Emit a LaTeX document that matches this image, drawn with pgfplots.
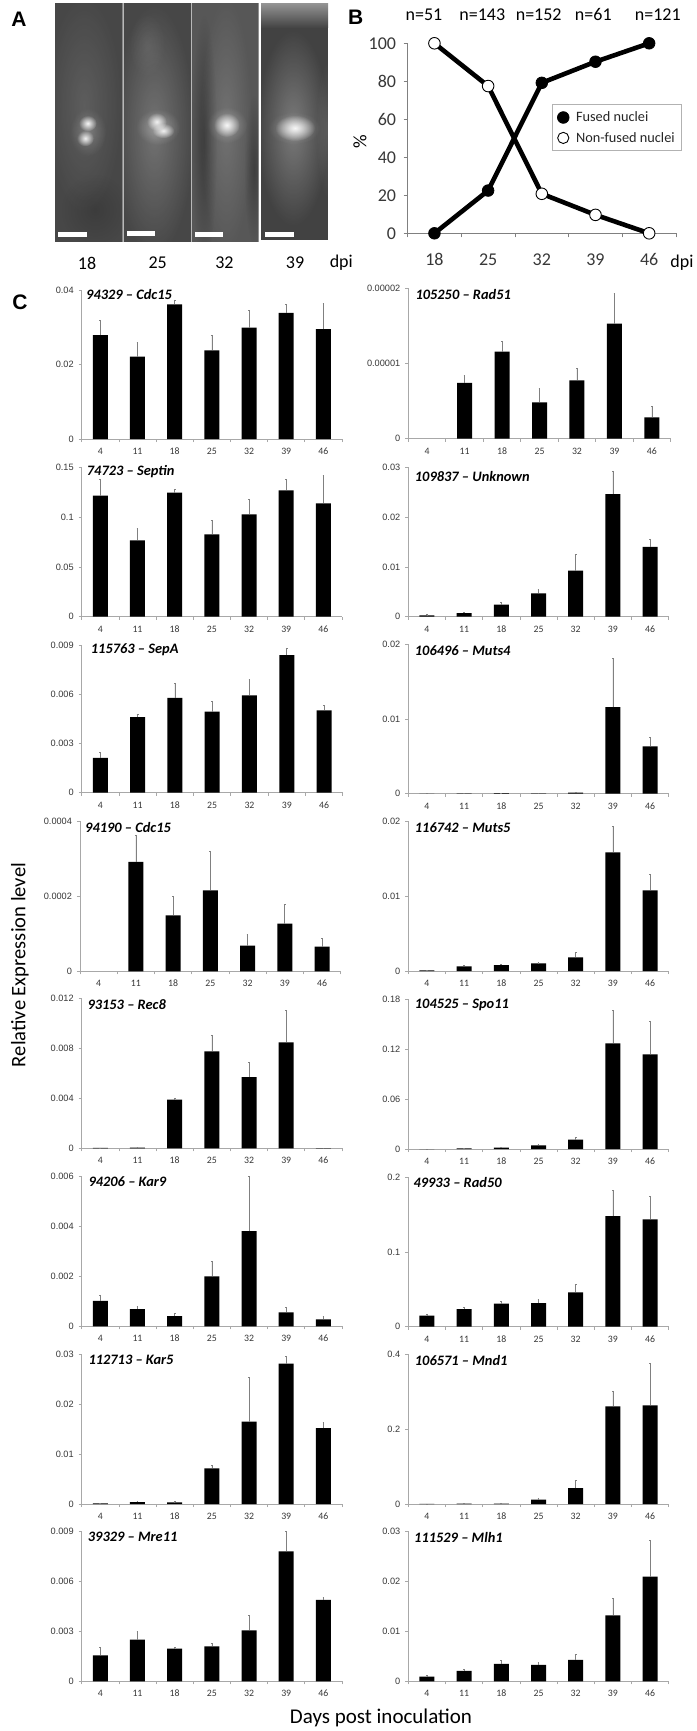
\documentclass[border=0pt]{standalone}
\usepackage{pgfplots}
\pgfplotsset{compat=1.18}
\usetikzlibrary{fadings}
\usepackage{fontspec}
\setmainfont{Liberation Sans}
\newfontfamily\carl{Carlito}
\definecolor{axg}{HTML}{A8A8A8}
\definecolor{txg}{HTML}{383838}
\definecolor{errg}{HTML}{808080}
\tikzfading[name=glowf,inner color=transparent!0,outer color=transparent!100]
% \glow{colour}{opacity}{x}{y}{rx}{ry}
\newcommand{\glow}[6]{\fill[#1,opacity=#2,path fading=glowf] (#3,-#4) ellipse (#5 and #6);}
% \panel{xl}{xr}{ytop}{ybottom}{ymax}{yticks}{yticklabels}{coords}
\newcommand{\panel}[8]{%
\pgfmathsetlengthmacro{\pw}{#2pt-#1pt}%
\pgfmathsetlengthmacro{\ph}{#4pt-#3pt}%
\begin{axis}[at={(#1pt,-#4pt)},anchor=south west,scale only axis,width=\pw,height=\ph,
 xmin=-0.5,xmax=6.5,ymin=0,ymax=#5,clip=false,
 axis x line=bottom,axis y line=left,
 axis line style={axg,-,line width=0.9pt},
 tick align=outside,major tick length=0pt,minor tick length=3pt,
 minor tick style={axg,line width=0.7pt},
 xtick={0,1,2,3,4,5,6},xticklabels={4,11,18,25,32,39,46},
 minor xtick={-0.5,0.5,1.5,2.5,3.5,4.5,5.5,6.5},
 ytick={#6},minor ytick={#6},yticklabels={#7},
 scaled y ticks=false,
 xticklabel style={font=\carl\fontsize{9.8}{10}\selectfont,text=txg,text height=6.5pt,text depth=0pt,yshift=-5.5pt},
 yticklabel style={font=\fontsize{9.2}{10}\selectfont,text=txg,xshift=-4.5pt},
]
\addplot[ybar,bar width=15pt,fill=black,draw=none,
 error bars/.cd,y dir=plus,y explicit,
 error bar style={errg,line width=0.7pt},error mark options={errg,mark size=0.9pt,line width=0.5pt,rotate=90}]
 coordinates {#8};
\end{axis}}
\newcommand{\ttl}[3]{\node[anchor=west,inner sep=0pt,font=\carl\bfseries\itshape\fontsize{14.4}{15}\selectfont] at (#1pt,-#2pt) {#3};}
\newcommand{\lab}[4][]{\node[inner sep=0pt,#1] at (#2pt,-#3pt) {#4};}
\begin{document}
\begin{tikzpicture}[x=1pt,y=1pt]
\path[use as bounding box,fill=white] (0,0) rectangle (696pt,-1731pt);
% ---- panel A: micrographs, painted with soft glows
\begin{scope}
\clip (54.7,-3.3) rectangle (122.7,-241.7);
\fill[black!72] (54.7,-3.3) rectangle (122.7,-241.7);
\glow{white}{0.12}{84}{105}{38}{110}
\glow{black}{0.15}{95}{210}{34}{36}
\glow{white}{0.22}{88}{132}{18}{24}
\glow{white}{0.95}{87.7}{123.3}{9}{8}
\glow{white}{0.90}{85.3}{138.3}{8.5}{8}
\end{scope}
\begin{scope}
\clip (123,-3.3) rectangle (191.3,-241.7);
\fill[black!72] (123,-3.3) rectangle (191.3,-241.7);
\glow{white}{0.24}{154}{130}{40}{126}
\glow{white}{0.08}{147}{45}{18}{32}
\glow{white}{0.32}{158}{127}{22}{18}
\glow{white}{0.88}{156.7}{121.7}{10}{9}
\glow{white}{0.88}{163.3}{130.7}{11}{7.5}
\end{scope}
\begin{scope}
\clip (191.6,-3.3) rectangle (258.7,-241.7);
\fill[black!66] (191.6,-3.3) rectangle (258.7,-241.7);
\glow{black}{0.32}{204}{140}{13}{125}
\glow{black}{0.28}{254}{170}{10}{75}
\glow{white}{0.16}{226}{125}{26}{128}
\glow{white}{0.30}{227}{125}{20}{18}
\glow{white}{0.92}{226.7}{125}{13}{12}
\end{scope}
\begin{scope}
\clip (261,-3.3) rectangle (328,-240);
\fill[black!74] (261,-3.3) rectangle (328,-240);
\shade[top color=black!42,bottom color=black!74] (261,-3.3) rectangle (328,-28);
\glow{white}{0.30}{293}{128}{36}{98}
\glow{white}{0.12}{328}{130}{12}{70}
\glow{white}{0.25}{294}{128}{26}{16}
\glow{white}{0.92}{295}{128}{20}{13}
\end{scope}
\draw[black!28,line width=0.6pt] (122.8,-3.3) -- (122.8,-241.7) (191.4,-3.3) -- (191.4,-241.7);
\fill[white] (57.7,-231.7) rectangle (86.7,-236.7);
\fill[white] (126.7,-231) rectangle (155.3,-236);
\fill[white] (195.3,-232) rectangle (223.3,-237);
\fill[white] (265.2,-232.3) rectangle (293.6,-237);
\foreach \x/\t in {87/18,157.7/25,224.4/32,295/39,341.3/dpi}{\lab[font=\carl\fontsize{18}{19}\selectfont]{\x}{263}{\t}}
\lab[font=\bfseries\fontsize{21}{22}\selectfont]{19}{19}{A}
\lab[font=\bfseries\fontsize{21}{22}\selectfont]{355.6}{17}{B}
\lab[font=\bfseries\fontsize{21}{22}\selectfont]{20}{302}{C}
% ---- panel B
\begin{axis}[at={(407.6pt,-233.3pt)},anchor=south west,scale only axis,width=268.4pt,height=190pt,
 xmin=-0.5,xmax=4.5,ymin=0,ymax=100,clip=false,
 axis x line=bottom,axis y line=left,
 axis line style={black!50,-,line width=0.9pt},
 tick align=outside,major tick length=0pt,minor tick length=4pt,
 minor tick style={black!50,line width=0.7pt},
 xtick={0,1,2,3,4},xticklabels={18,25,32,39,46},
 minor xtick={-0.5,0.5,1.5,2.5,3.5,4.5},
 ytick={0,20,40,60,80,100},minor ytick={0,20,40,60,80,100},yticklabels={0,20,40,60,80,100},
 xticklabel style={font=\carl\fontsize{18}{19}\selectfont,text=txg,text height=11.5pt,text depth=0pt,yshift=-17pt},
 yticklabel style={font=\carl\fontsize{18}{19}\selectfont,text=txg,xshift=-8pt},
 legend style={at={(0.5375,0.6785)},anchor=north west,draw=black!30,line width=0.8pt,fill=white,
  font=\carl\fontsize{14.3}{15}\selectfont,text=black!85,row sep=5pt,inner xsep=5.2pt,inner ysep=5pt,cells={anchor=west}},
 legend cell align=left,
]
\addplot[black,line width=4.6pt,mark=*,mark size=5.8pt,mark options={fill=black,draw=black,line width=0.8pt},forget plot]
 coordinates {(0,0)(1,22.5)(2,79.2)(3,90.3)(4,100)};
\addplot[black,line width=4.6pt,mark=*,mark size=5.8pt,mark options={fill=white,draw=black,line width=0.9pt},forget plot]
 coordinates {(0,100)(1,77.5)(2,20.8)(3,9.7)(4,0)};
\addlegendimage{only marks,mark=*,mark size=5.8pt,mark options={fill=black,draw=black,line width=0.8pt}}
\addlegendentry{\hspace{5pt}Fused nuclei}
\addlegendimage{only marks,mark=*,mark size=5.6pt,mark options={fill=white,draw=black,line width=0.9pt}}
\addlegendentry{\hspace{5pt}Non-fused nuclei}
\end{axis}
\foreach \x/\t/\yy in {424/n=51/14.5,482.3/n=143/14.5,538.7/n=152/14.5,593.3/n=61/14.5,657.8/n=121/14.5,682/dpi/263}{\lab[font=\carl\fontsize{18}{19}\selectfont]{\x}{\yy}{\t}}
\lab[font=\carl\fontsize{19}{20}\selectfont,rotate=90]{360}{142}{\%}
% ---- panel C, left column
\panel{81.7}{342}{290}{439}{0.04}{0,0.02,0.04}{0,0.02,0.04}{(0,0.02792)+-(0,0.00385)(1,0.0221)+-(0,0.00376)(2,0.03615)+-(0,0.00117)(3,0.0238)+-(0,0.00412)(4,0.02989)+-(0,0.00474)(5,0.03383)+-(0,0.00241)(6,0.02953)+-(0,0.00689)}
\panel{81.7}{342}{467.3}{616.7}{0.15}{0,0.05,0.1,0.15}{0,0.05,0.1,0.15}{(0,0.1215)+-(0,0.0161)(1,0.0767)+-(0,0.0121)(2,0.1246)+-(0,0.0033)(3,0.0827)+-(0,0.0141)(4,0.1028)+-(0,0.0151)(5,0.1269)+-(0,0.011)(6,0.1138)+-(0,0.0281)}
\panel{81.7}{342.7}{645.7}{792.7}{0.009}{0,0.003,0.006,0.009}{0,0.003,0.006,0.009}{(0,0.00214)+-(0,0.00031)(1,0.00463)+-(0,0.00018)(2,0.0058)+-(0,0.0009)(3,0.00496)+-(0,0.00063)(4,0.00596)+-(0,0.001)(5,0.00843)+-(0,0.00041)(6,0.00504)+-(0,0.00031)}
\panel{80}{340.7}{821.3}{971.3}{0.0004}{0,0.0002,0.0004}{0,0.0002,0.0004}{(1,0.000292)+-(0,0.0000702)(2,0.000149)+-(0,0.0000507)(3,0.000216)+-(0,0.000104)(4,0.0000684)+-(0,0.0000302)(5,0.000127)+-(0,0.0000524)(6,0.0000658)+-(0,0.0000222)}
\panel{81.7}{342}{998.7}{1148.3}{0.012}{0,0.004,0.008,0.012}{0,0.004,0.008,0.012}{(0,0.00003)+-(0,0)(1,0.00005)+-(0,0)(2,0.0039)+-(0,0.00011)(3,0.00778)+-(0,0.00131)(4,0.00572)+-(0,0.00118)(5,0.0085)+-(0,0.00254)(6,0.00002)+-(0,0)}
\panel{81.7}{342}{1176.7}{1326.3}{0.006}{0,0.002,0.004,0.006}{0,0.002,0.004,0.006}{(0,0.00102)+-(0,0.00024)(1,0.00069)+-(0,0.00012)(2,0.00041)+-(0,0.00013)(3,0.002)+-(0,0.00061)(4,0.00382)+-(0,0.00218)(5,0.00056)+-(0,0.00021)(6,0.00028)+-(0,0.00011)}
\panel{81.7}{342}{1354.3}{1504}{0.03}{0,0.01,0.02,0.03}{0,0.01,0.02,0.03}{(0,0.00013)+-(0,0.00007)(1,0.0004)+-(0,0.00013)(2,0.00033)+-(0,0.00013)(3,0.00715)+-(0,0.0006)(4,0.0165)+-(0,0.00889)(5,0.02813)+-(0,0.00147)(6,0.01523)+-(0,0.00114)}
\panel{81.7}{342}{1531.3}{1681.3}{0.009}{0,0.003,0.006,0.009}{0,0.003,0.006,0.009}{(0,0.00156)+-(0,0.00048)(1,0.0025)+-(0,0.00048)(2,0.00196)+-(0,0.00008)(3,0.0021)+-(0,0.00018)(4,0.00306)+-(0,0.00088)(5,0.0078)+-(0,0.0012)(6,0.00488)+-(0,0.00016)}
% ---- panel C, right column
\panel{408.3}{670.7}{288.3}{438.7}{0.00002}{0,0.00001,0.00002}{0,0.00001,0.00002}{(1,0.00000741)+-(0,0.00000106)(2,0.00001157)+-(0,0.00000133)(3,0.00000483)+-(0,0.00000186)(4,0.00000776)+-(0,0.0000016)(5,0.0000153)+-(0,0.00000404)(6,0.00000284)+-(0,0.00000142)}
\panel{408.3}{668.7}{467.3}{616.7}{0.03}{0,0.01,0.02,0.03}{0,0.01,0.02,0.03}{(0,0.00027)+-(0,0.00013)(1,0.00074)+-(0,0.00013)(2,0.00241)+-(0,0.0004)(3,0.00469)+-(0,0.00074)(4,0.00924)+-(0,0.00335)(5,0.02464)+-(0,0.00455)(6,0.014)+-(0,0.00161)}
\panel{408.3}{668.7}{644}{793.7}{0.02}{0,0.01,0.02}{0,0.01,0.02}{(0,0.00001)+-(0,0)(1,0.00004)+-(0,0)(2,0.00009)+-(0,0.00002)(3,0.00003)+-(0,0)(4,0.00013)+-(0,0.00009)(5,0.01158)+-(0,0.0065)(6,0.00633)+-(0,0.0012)}
\panel{408.3}{668.7}{821.3}{971}{0.02}{0,0.01,0.02}{0,0.01,0.02}{(0,0.00009)+-(0,0.00002)(1,0.00062)+-(0,0.00013)(2,0.0008)+-(0,0.00009)(3,0.00102)+-(0,0.00009)(4,0.00183)+-(0,0.00062)(5,0.01586)+-(0,0.00343)(6,0.01078)+-(0,0.00214)}
\panel{408.3}{668.7}{999.3}{1149}{0.18}{0,0.06,0.12,0.18}{0,0.06,0.12,0.18}{(0,0)+-(0,0)(1,0.0008)+-(0,0.0004)(2,0.0016)+-(0,0.0008)(3,0.0044)+-(0,0.0016)(4,0.0112)+-(0,0.0028)(5,0.1271)+-(0,0.0397)(6,0.1139)+-(0,0.0397)}
\panel{408.3}{668.7}{1177}{1326.7}{0.2}{0,0.1,0.2}{0,0.1,0.2}{(0,0.0147)+-(0,0.0018)(1,0.0236)+-(0,0.0022)(2,0.0307)+-(0,0.0031)(3,0.0316)+-(0,0.0049)(4,0.0459)+-(0,0.0107)(5,0.1479)+-(0,0.0343)(6,0.1434)+-(0,0.0307)}
\panel{408.3}{668.7}{1354.3}{1504}{0.4}{0,0.2,0.4}{0,0.2,0.4}{(0,0.0005)+-(0,0)(1,0.0009)+-(0,0.0005)(2,0.0009)+-(0,0.0005)(3,0.0116)+-(0,0.0027)(4,0.0428)+-(0,0.0205)(5,0.261)+-(0,0.0401)(6,0.2637)+-(0,0.1122)}
\panel{408.3}{668.7}{1531.3}{1681.3}{0.03}{0,0.01,0.02,0.03}{0,0.01,0.02,0.03}{(0,0.00093)+-(0,0.0002)(1,0.00207)+-(0,0.00033)(2,0.00347)+-(0,0.00073)(3,0.00327)+-(0,0.00047)(4,0.00427)+-(0,0.00113)(5,0.0132)+-(0,0.00347)(6,0.02093)+-(0,0.00733)}
% ---- titles
\ttl{86}{294.7}{94329 – Cdc15}
\ttl{86.7}{471.7}{74723 – Septin}
\ttl{90.7}{650}{115763 – SepA}
\ttl{85}{827.7}{94190 – Cdc15}
\ttl{87.3}{1005}{93153 – Rec8}
\ttl{88.3}{1181.7}{94206 – Kar9}
\ttl{88.3}{1360}{112713 – Kar5}
\ttl{87.7}{1536.7}{39329 – Mre11}
\ttl{415.3}{294}{105250 – Rad51}
\ttl{414.7}{476.7}{109837 – Unknown}
\ttl{414.7}{650.7}{106496 – Muts4}
\ttl{414.7}{827.3}{116742 – Muts5}
\ttl{414.7}{1005}{104525 – Spo11}
\ttl{413.3}{1182.3}{49933 – Rad50}
\ttl{414.7}{1360.3}{106571 – Mnd1}
\ttl{414}{1537}{111529 – Mlh1}
% ---- shared labels
\lab[font=\carl\fontsize{20.6}{22}\selectfont,rotate=90]{20}{965}{Relative Expression level}
\lab[font=\carl\fontsize{21}{22}\selectfont]{381}{1717.5}{Days post inoculation}
\end{tikzpicture}
\end{document}
